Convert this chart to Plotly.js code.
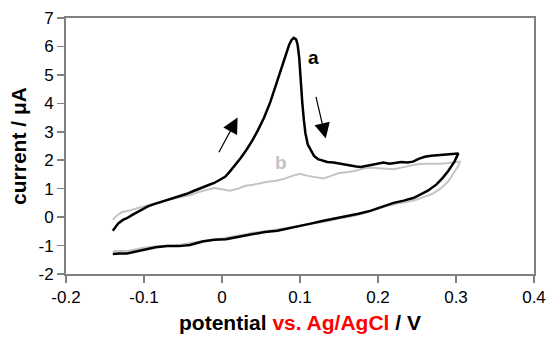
<!DOCTYPE html>
<html>
<head>
<meta charset="utf-8">
<script src="https://cdn.plot.ly/plotly-3.0.1.min.js"></script>
<style>html,body{margin:0;padding:0;background:#fff;}#chart{width:547px;height:337px;}</style>
</head>
<body>
<div id="chart"></div>
<script>
// Curve a (black): forward scan then reverse scan
const aPotential = [
  -0.140, -0.137, -0.133, -0.127, -0.122, -0.115, -0.108, -0.101, -0.095, -0.088, -0.082, -0.075,
  -0.068, -0.060, -0.053, -0.045, -0.038, -0.028, -0.018, -0.010, -0.003, 0.004, 0.010, 0.017,
  0.024, 0.031, 0.038, 0.046, 0.054, 0.062, 0.068, 0.073, 0.078, 0.082, 0.086, 0.089, 0.092,
  0.095, 0.097, 0.099, 0.100, 0.102, 0.103, 0.105, 0.107, 0.110, 0.114, 0.118, 0.123, 0.129,
  0.135, 0.143, 0.150, 0.158, 0.165, 0.172, 0.178, 0.185, 0.193, 0.200, 0.207, 0.215, 0.222,
  0.230, 0.238, 0.245, 0.252, 0.260, 0.268, 0.276, 0.285, 0.293, 0.303,
  0.298, 0.290, 0.283, 0.275, 0.264, 0.255, 0.246, 0.233, 0.220, 0.205, 0.190, 0.175, 0.161,
  0.145, 0.130, 0.115, 0.100, 0.085, 0.071, 0.055, 0.037, 0.020, 0.005, -0.010, -0.025, -0.041,
  -0.055, -0.070, -0.085, -0.100, -0.112, -0.122, -0.132, -0.140
];
const aCurrent = [
  -0.48, -0.35, -0.22, -0.10, -0.04, 0.08, 0.18, 0.28, 0.38, 0.45, 0.50, 0.55,
  0.62, 0.68, 0.75, 0.82, 0.90, 1.02, 1.12, 1.20, 1.30, 1.42, 1.60, 1.82,
  2.08, 2.35, 2.65, 3.05, 3.50, 4.05, 4.55, 4.95, 5.40, 5.75, 6.05, 6.22, 6.30,
  6.25, 6.05, 5.60, 5.16, 4.60, 4.00, 3.40, 2.94, 2.55, 2.32, 2.15, 2.04, 1.98,
  1.94, 1.92, 1.88, 1.84, 1.80, 1.78, 1.76, 1.80, 1.84, 1.90, 1.92, 1.88, 1.92,
  1.94, 1.92, 1.95, 2.05, 2.12, 2.16, 2.18, 2.18, 2.20, 2.24,
  1.95, 1.62, 1.38, 1.15, 0.93, 0.80, 0.68, 0.58, 0.50, 0.36, 0.22, 0.12, 0.05,
  -0.05, -0.13, -0.22, -0.31, -0.40, -0.48, -0.52, -0.60, -0.70, -0.78, -0.80, -0.86, -0.98,
  -1.02, -1.02, -1.06, -1.14, -1.22, -1.28, -1.28, -1.30
];

// Curve b (grey): forward scan then reverse scan
const bPotential = [
  -0.140, -0.135, -0.128, -0.120, -0.110, -0.100, -0.090, -0.080, -0.070, -0.060, -0.050, -0.040,
  -0.030, -0.020, -0.010, 0.000, 0.010, 0.020, 0.030, 0.040, 0.050, 0.060, 0.070, 0.080, 0.090,
  0.100, 0.110, 0.120, 0.130, 0.140, 0.150, 0.160, 0.170, 0.180, 0.190, 0.200, 0.210, 0.220,
  0.230, 0.240, 0.250, 0.260, 0.270, 0.280, 0.290, 0.300, 0.305,
  0.303, 0.297, 0.290, 0.280, 0.270, 0.260, 0.250, 0.240, 0.225, 0.210, 0.195, 0.180, 0.165,
  0.150, 0.135, 0.120, 0.100, 0.080, 0.060, 0.040, 0.020, 0.000, -0.020, -0.040, -0.060, -0.080,
  -0.100, -0.120, -0.140
];
const bCurrent = [
  -0.10, 0.05, 0.18, 0.22, 0.30, 0.38, 0.45, 0.52, 0.60, 0.66, 0.72, 0.78,
  0.88, 0.96, 1.02, 0.98, 0.93, 1.00, 1.10, 1.14, 1.20, 1.25, 1.28, 1.35, 1.45,
  1.52, 1.45, 1.40, 1.36, 1.45, 1.55, 1.58, 1.62, 1.70, 1.74, 1.72, 1.70, 1.68,
  1.74, 1.80, 1.86, 1.88, 1.87, 1.88, 1.90, 1.92, 1.95,
  1.80, 1.55, 1.25, 1.00, 0.82, 0.72, 0.62, 0.55, 0.48, 0.38, 0.25, 0.12, 0.02,
  -0.05, -0.15, -0.22, -0.30, -0.38, -0.48, -0.55, -0.65, -0.75, -0.82, -0.92, -1.00, -1.02,
  -1.08, -1.18, -1.20
];

const xTickVals = [-0.2, -0.1, 0, 0.1, 0.2, 0.3, 0.4];
const xTickText = ['-0.2', '-0.1', '0', '0.1', '0.2', '0.3', '0.4'];
const yTickVals = [-2, -1, 0, 1, 2, 3, 4, 5, 6, 7];
const yTickText = ['-2', '-1', '0', '1', '2', '3', '4', '5', '6', '7'];

const labels = ['a', 'b'];
const labelPos = [[0.117, 5.6], [0.075, 1.92]];
const arrowTails = [[-0.005, 2.23], [0.120, 4.28]];
const arrowTips = [[0.020, 3.50], [0.133, 2.76]];

const FONT = 'Liberation Sans, Arial, sans-serif';
const AXCOL = '#7f7f7f';

const traces = [
  {x: bPotential, y: bCurrent, mode: 'lines', line: {color: '#c4c4c4', width: 2}, hoverinfo: 'skip'},
  {x: aPotential, y: aCurrent, mode: 'lines', line: {color: '#000000', width: 2.5}, hoverinfo: 'skip'}
];

const annotations = [];
labels.forEach((t, i) => {
  annotations.push({
    x: labelPos[i][0], y: labelPos[i][1], xref: 'x', yref: 'y', text: t, showarrow: false,
    font: {family: FONT, size: 19, weight: 'bold', color: i === 0 ? '#000000' : '#c4c4c4'}
  });
});
arrowTails.forEach((tail, i) => {
  annotations.push({
    x: arrowTips[i][0], y: arrowTips[i][1], ax: tail[0], ay: tail[1],
    xref: 'x', yref: 'y', axref: 'x', ayref: 'y', text: '', showarrow: true,
    arrowhead: 2, arrowsize: 2.6, arrowwidth: 1.2, arrowcolor: '#000000', standoff: 0
  });
});

const layout = {
  width: 547, height: 337,
  margin: {l: 66, r: 13, t: 18, b: 63},
  paper_bgcolor: '#ffffff', plot_bgcolor: '#ffffff',
  showlegend: false,
  font: {family: FONT, size: 17, color: '#000000'},
  xaxis: {
    range: [-0.2, 0.4], tickvals: xTickVals, ticktext: xTickText,
    showline: true, mirror: true, linecolor: AXCOL, linewidth: 2,
    ticks: 'outside', ticklen: 7, tickwidth: 1.5, tickcolor: AXCOL,
    showgrid: false, zeroline: false, automargin: false,
    tickfont: {family: FONT, size: 17, color: '#000000'},
    title: {text: 'potential <span style="color:#ff0000">vs. Ag/AgCl</span> / V',
            font: {family: FONT, size: 21, weight: 'bold', color: '#000000'}, standoff: 9}
  },
  yaxis: {
    range: [-2, 7], tickvals: yTickVals, ticktext: yTickText,
    showline: true, mirror: true, linecolor: AXCOL, linewidth: 2,
    ticks: 'outside', ticklen: 7, tickwidth: 1.5, tickcolor: AXCOL,
    showgrid: false, zeroline: false, automargin: false,
    tickfont: {family: FONT, size: 17, color: '#000000'},
    title: {text: 'current / μA',
            font: {family: FONT, size: 21, weight: 'bold', color: '#000000'}, standoff: 6}
  },
  annotations: annotations
};

Plotly.newPlot('chart', traces, layout, {displayModeBar: false, staticPlot: true});
</script>
</body>
</html>
